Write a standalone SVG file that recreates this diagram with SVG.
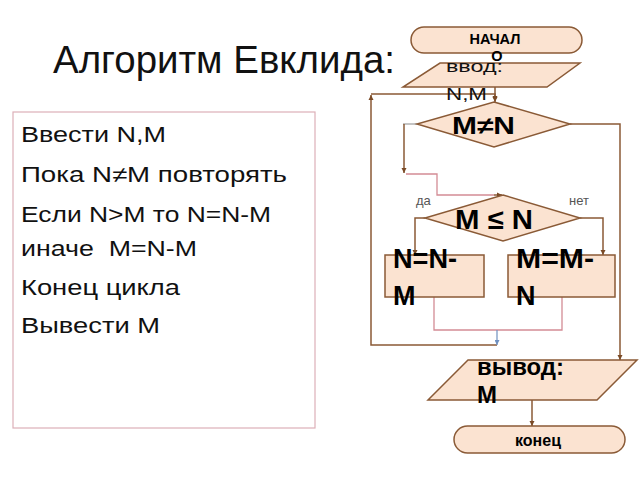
<svg xmlns="http://www.w3.org/2000/svg" width="640" height="480" viewBox="0 0 640 480">
<style>
.sh{fill:#FBE3D1;stroke:#8A5A36;stroke-width:1.5}
.c{fill:none;stroke:#8A5A36;stroke-width:1.5}
.p{fill:none;stroke:#D38C95;stroke-width:1.3}
.t{font-family:"Liberation Sans",Arial,sans-serif;fill:#111}
.b{font-family:"Liberation Sans",Arial,sans-serif;font-weight:bold;fill:#000}
.lt{font-family:"Liberation Sans",Arial,sans-serif;font-size:22px;fill:#111}
</style>
<defs>
<marker id="ar" viewBox="0 0 10 10" refX="10" refY="5" markerWidth="5" markerHeight="6" orient="auto" markerUnits="userSpaceOnUse">
<path d="M0,0 L10,5 L0,10 z" fill="#7A4A26"/>
</marker>
<marker id="ab" viewBox="0 0 10 10" refX="10" refY="5" markerWidth="5" markerHeight="5" orient="auto" markerUnits="userSpaceOnUse">
<path d="M0,0 L10,5 L0,10 z" fill="#6F90C0"/>
</marker>
</defs>
<rect width="640" height="480" fill="#fff"/>
<text class="t" x="53" y="73" font-size="38" textLength="342" lengthAdjust="spacingAndGlyphs" fill="#222">Алгоритм Евклида:</text>
<g id="pseudocode">
<rect x="13" y="112" width="302" height="316" fill="#fff" stroke="#DDB0B8" stroke-width="1.2"/>
<text class="lt" x="21" y="142" textLength="145" lengthAdjust="spacingAndGlyphs">Ввести N,M</text>
<text class="lt" x="21" y="182" textLength="266" lengthAdjust="spacingAndGlyphs">Пока N≠M повторять</text>
<text class="lt" x="21" y="222" textLength="250" lengthAdjust="spacingAndGlyphs">Если N&gt;M то N=N-M</text>
<text class="lt" x="21" y="256" textLength="176" lengthAdjust="spacingAndGlyphs" xml:space="preserve">иначе  M=N-M</text>
<text class="lt" x="21" y="295" textLength="159" lengthAdjust="spacingAndGlyphs">Конец цикла</text>
<text class="lt" x="21" y="333" textLength="139" lengthAdjust="spacingAndGlyphs">Вывести M</text>
</g>
<g id="connectors">
<line class="c" x1="495" y1="87" x2="495" y2="102" marker-end="url(#ar)"/>
<path class="c" d="M497,345 H371 V95" marker-end="url(#ar)"/>
<path class="c" d="M371,94 H495 V101" marker-end="url(#ar)"/>
<line x1="417" y1="124" x2="403" y2="124" stroke="#B0B0B0" stroke-width="1.5"/>
<path class="c" d="M404,124 V173" marker-end="url(#ar)"/>
<path class="p" d="M406,174 H437 V195 H494"/>
<line class="c" x1="494" y1="195" x2="502" y2="195" marker-end="url(#ar)"/>
<path class="c" d="M425,218 H415 V255" marker-end="url(#ar)"/>
<path class="c" d="M580,218 H603 V255" marker-end="url(#ar)"/>
<path class="p" d="M434,297 V330 H562 V297"/>
<line x1="497" y1="330" x2="497" y2="345" stroke="#6F90C0" stroke-width="1.2" marker-end="url(#ab)"/>
<path class="c" d="M570,124 H620 V360" marker-end="url(#ar)"/>
<line class="c" x1="532" y1="400" x2="532" y2="426" marker-end="url(#ar)"/>
</g>
<g id="start">
<rect class="sh" x="411" y="27" width="171" height="26" rx="13"/>
<text class="b" x="495" y="44" font-size="14.5" text-anchor="middle" style="font-weight:600">НАЧАЛ</text>
<text class="b" x="497" y="61" font-size="14.5" text-anchor="middle" style="font-weight:600">О</text>
</g>
<g id="input">
<polygon class="sh" points="440,63 580,63 547,87 403,87"/>
<text class="t" x="446" y="72" font-size="16" textLength="57" lengthAdjust="spacingAndGlyphs">ввод:</text>
<text class="t" x="446" y="100" font-size="16" textLength="41" lengthAdjust="spacingAndGlyphs">N,M</text>
</g>
<g id="cond1">
<polygon class="sh" points="494,102 570,124 494,147 417,124"/>
<text class="b" x="452" y="134" font-size="24" textLength="63" lengthAdjust="spacingAndGlyphs">M≠N</text>
</g>
<g id="cond2">
<polygon class="sh" points="503,195 580,218 503,241 425,218"/>
<text class="b" x="455" y="229" font-size="28" textLength="78" lengthAdjust="spacingAndGlyphs">M ≤ N</text>
<text class="t" x="416" y="205" font-size="13" style="fill:#555">да</text>
<text class="t" x="569" y="205" font-size="13" style="fill:#555">нет</text>
</g>
<g id="assignN">
<rect class="sh" x="385" y="255" width="99" height="42"/>
<text class="b" x="393" y="268" font-size="27" textLength="64" lengthAdjust="spacingAndGlyphs">N=N-</text>
<text class="b" x="393" y="305" font-size="27">M</text>
</g>
<g id="assignM">
<rect class="sh" x="508" y="255" width="107" height="42"/>
<text class="b" x="516" y="268" font-size="27" textLength="78" lengthAdjust="spacingAndGlyphs">M=M-</text>
<text class="b" x="516" y="305" font-size="27">N</text>
</g>
<g id="output">
<polygon class="sh" points="468,360 637,360 597,400 428,400"/>
<text class="b" x="477" y="375" font-size="24" textLength="87" lengthAdjust="spacingAndGlyphs">вывод:</text>
<text class="b" x="477" y="403" font-size="24">M</text>
</g>
<g id="end">
<rect class="sh" x="454" y="426" width="171" height="27" rx="13.5"/>
<text class="b" x="538" y="446" font-size="16" text-anchor="middle">конец</text>
</g>
</svg>
